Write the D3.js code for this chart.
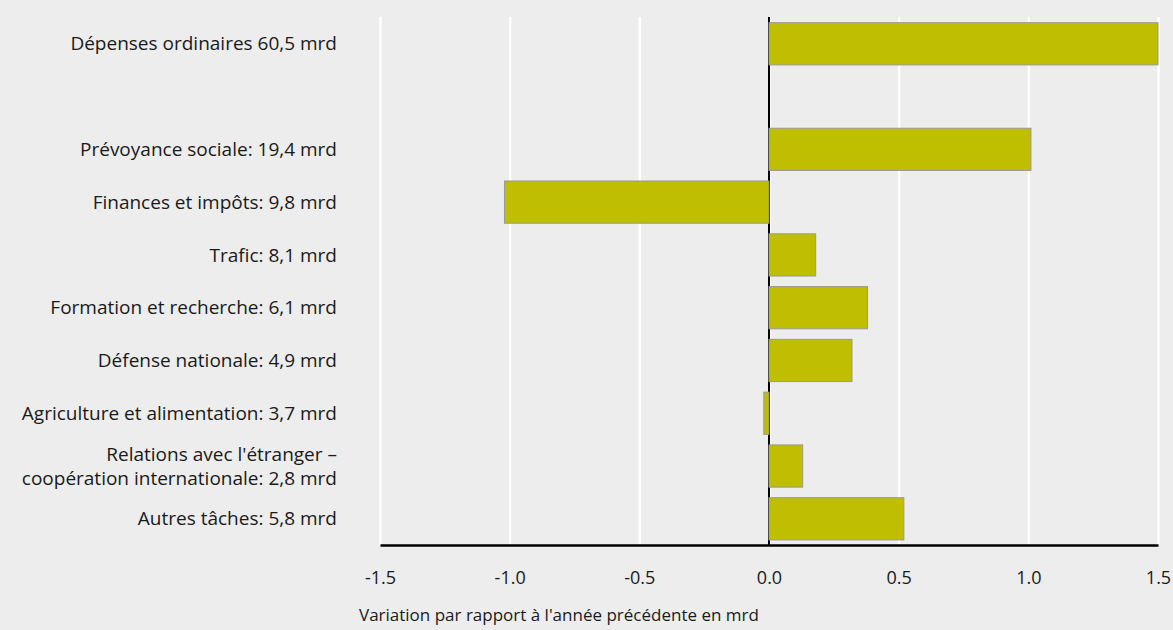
<!DOCTYPE html>
<html>
<head>
<meta charset="utf-8">
<script src="https://cdn.jsdelivr.net/npm/d3@7"></script>
<style>
  body { margin: 0; background: #ecedec; }
  svg { display: block; }
  text { font-family: "Open Sans", "DejaVu Sans", sans-serif; fill: #1a1a1a; }
</style>
</head>
<body>
<script>
// categories (an empty slot separates the total from the tasks)
var categories = [
  "Dépenses ordinaires 60,5 mrd",
  "",
  "Prévoyance sociale: 19,4 mrd",
  "Finances et impôts: 9,8 mrd",
  "Trafic: 8,1 mrd",
  "Formation et recherche: 6,1 mrd",
  "Défense nationale: 4,9 mrd",
  "Agriculture et alimentation: 3,7 mrd",
  "Relations avec l'étranger –\ncoopération internationale: 2,8 mrd",
  "Autres tâches: 5,8 mrd"
];
var values = [1.5, null, 1.01, -1.02, 0.18, 0.38, 0.32, -0.02, 0.13, 0.52];
var xTicks = [-1.5, -1.0, -0.5, 0.0, 0.5, 1.0, 1.5];
var xTitle = "Variation par rapport à l'année précédente en mrd";

var width = 1173,
  height = 630,
  barColor = "#bfbe00",
  bgColor = "#ecedec";

var svg = d3.select("body").append("svg")
  .attr("width", width)
  .attr("height", height);

svg.append("rect")
  .attr("width", width)
  .attr("height", height)
  .attr("fill", bgColor);

var x = d3.scaleLinear().domain([-1.5, 1.5]).range([380, 1158]);
var y = d3.scaleBand()
  .domain(d3.range(categories.length))
  .range([17.4, 545.2])
  .paddingInner(0.2)
  .paddingOuter(0.1);

// white gridlines
var grid = svg.append("g")
  .attr("transform", "translate(0,545)")
  .call(d3.axisBottom(x).tickValues(xTicks).tickSize(-(545 - 17)).tickFormat(""));
grid.select(".domain").remove();
grid.selectAll("line").attr("stroke", "#ffffff").attr("stroke-width", 2.5);

// zero line
svg.append("line")
  .attr("x1", x(0)).attr("x2", x(0))
  .attr("y1", 17).attr("y2", 545)
  .attr("stroke", "#000").attr("stroke-width", 2);

// bars
var data = categories.map(function (c, i) { return { cat: c, v: values[i], i: i }; })
  .filter(function (d) { return d.v !== null; });

svg.append("g").selectAll("rect")
  .data(data)
  .enter().append("rect")
  .attr("x", function (d) { return x(Math.min(0, d.v)); })
  .attr("y", function (d) { return y(d.i); })
  .attr("width", function (d) { return Math.abs(x(d.v) - x(0)); })
  .attr("height", y.bandwidth())
  .attr("fill", barColor)
  .attr("stroke", "#999999")
  .attr("stroke-width", 1);

// category labels
var labels = svg.append("g").selectAll("text")
  .data(data)
  .enter().append("text")
  .attr("text-anchor", "end")
  .attr("font-size", 19)
  .attr("transform", function (d) {
    return "translate(337," + (y(d.i) + y.bandwidth() / 2) + ")";
  });

labels.each(function (d) {
  var lines = d.cat.split("\n");
  var t = d3.select(this);
  lines.forEach(function (l, k) {
    t.append("tspan")
      .attr("x", 0)
      .attr("y", (k - (lines.length - 1) / 2) * 24)
      .attr("dy", "0.35em")
      .text(l);
  });
});

// bottom axis
var axis = svg.append("g")
  .attr("transform", "translate(0,545)")
  .call(d3.axisBottom(x).tickValues(xTicks).tickSize(0).tickPadding(26)
    .tickFormat(function (d) { return d.toFixed(1); }));
axis.select(".domain").attr("stroke", "#000").attr("stroke-width", 2.5);
axis.selectAll("text")
  .attr("font-size", 18)
  .attr("fill", "#1a1a1a")
  .style("font-family", "\"Open Sans\", sans-serif");

svg.append("text")
  .attr("x", 359)
  .attr("y", 621)
  .attr("font-size", 17)
  .text(xTitle);
</script>
</body>
</html>
